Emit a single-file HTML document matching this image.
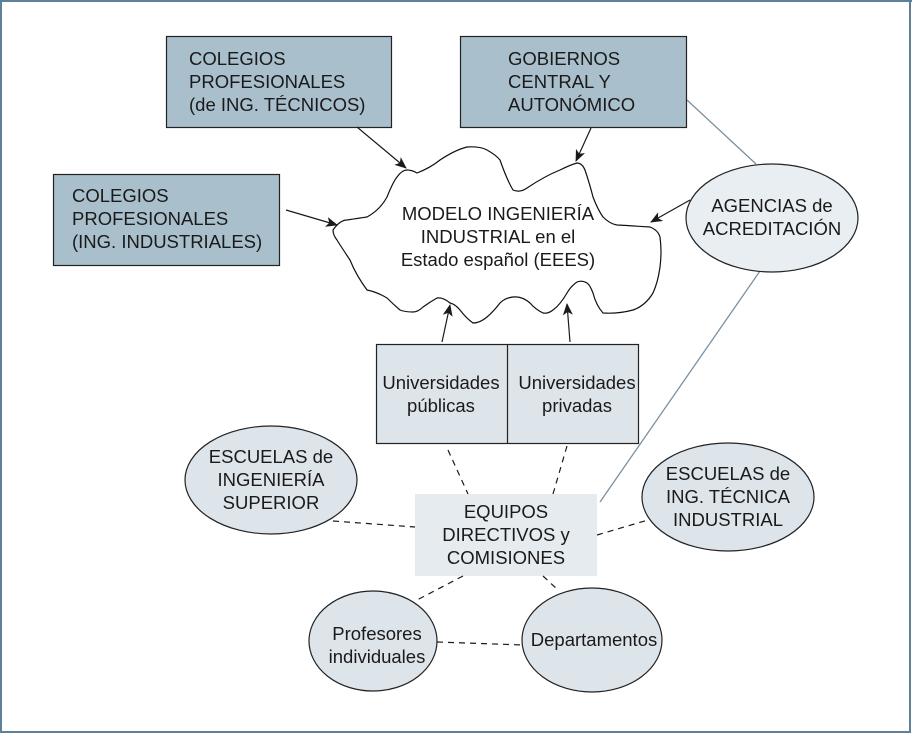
<!DOCTYPE html>
<html><head><meta charset="utf-8"><style>
body{margin:0;background:#fff}
svg{display:block}
text{font-family:"Liberation Sans",Arial,sans-serif;font-size:18.5px;fill:#1a1a1a}
</style></head><body>
<svg width="912" height="734" viewBox="0 0 912 734" xmlns="http://www.w3.org/2000/svg">
<defs><marker id="a" markerWidth="12" markerHeight="10" refX="11" refY="5" orient="auto" markerUnits="userSpaceOnUse"><path d="M0,0 L12,5 L0,10 L3,5 Z" fill="#1a1a1a"/></marker></defs>
<rect x="1" y="1" width="909" height="731" fill="#fff" stroke="#5f8197" stroke-width="2"/>
<rect x="0" y="0" width="912" height="2" fill="#5f8197"/>
<g stroke="#7a90a0" stroke-width="1.3" fill="none">
<line x1="687" y1="100" x2="756" y2="164"/>
<line x1="760" y1="271" x2="600" y2="502"/>
</g>
<g stroke="#222" stroke-width="1.2">
<rect x="166.5" y="36.5" width="225" height="91" fill="#a9bfcc"/>
<rect x="460.5" y="36.5" width="226" height="91" fill="#a9bfcc"/>
<rect x="53.5" y="174.5" width="226" height="91" fill="#a9bfcc"/>
<rect x="376.5" y="344.5" width="262" height="99" fill="#dde4ea"/>
<line x1="507.5" y1="344" x2="507.5" y2="443"/>
<ellipse cx="772" cy="218" rx="86" ry="54" fill="#e9eef2"/>
<ellipse cx="271" cy="480" rx="86" ry="54" fill="#dde4ea"/>
<ellipse cx="728" cy="497" rx="86" ry="54" fill="#dde4ea"/>
<ellipse cx="373" cy="641" rx="64" ry="50" fill="#dde4ea"/>
<ellipse cx="592" cy="640" rx="70" ry="52" fill="#dde4ea"/>
</g>
<rect x="415" y="494" width="182" height="82" fill="#e6ebef"/>
<path d="M333,230 Q340,220 347,220 Q360,218 367,217 Q380,210 387,197 Q393,182 397,177 Q402,170 407,170 Q412,170 417,173 Q430,168 440,160 Q455,150 467,147 Q480,146 487,150 Q496,155 500,160 Q507,180 513,190 Q520,193 527,188 Q545,176 560,170 Q570,165 577,163 Q582,163 585,170 Q590,185 593,197 Q598,210 603,217 Q610,224 617,225 Q635,226 650,227 Q658,230 660,237 Q662,252 660,267 Q658,282 653,293 Q645,306 633,310 Q618,314 603,313 Q596,305 593,293 Q590,285 587,283 Q582,280 577,282 Q571,286 567,293 Q560,305 553,310 Q548,314 543,313 Q535,309 530,303 Q522,296 513,297 Q505,298 500,303 Q493,312 487,317 Q480,323 473,323 Q466,318 460,310 Q455,304 450,303 Q443,297 437,298 Q430,302 423,307 Q418,312 413,312 Q405,312 400,310 Q393,304 387,298 Q377,292 367,290 Q356,275 350,260 Q340,245 337,240 Q333,235 333,230 Z" fill="#fff" stroke="#111" stroke-width="1.2"/>
<g stroke="#1a1a1a" stroke-width="1.2" marker-end="url(#a)">
<line x1="357" y1="127" x2="406" y2="168"/>
<line x1="591" y1="128" x2="576" y2="161"/>
<line x1="286" y1="210" x2="337" y2="225"/>
<line x1="690" y1="200" x2="651" y2="222"/>
<line x1="442" y1="342" x2="450" y2="305"/>
<line x1="570" y1="342" x2="567" y2="304"/>
</g>
<g stroke="#1a1a1a" stroke-width="1.2" stroke-dasharray="6,5" fill="none">
<line x1="448" y1="450" x2="468" y2="494"/>
<line x1="567" y1="446" x2="553" y2="494"/>
<line x1="333" y1="521" x2="415" y2="527"/>
<line x1="597" y1="535" x2="648" y2="520"/>
<line x1="463" y1="576" x2="417" y2="600"/>
<line x1="543" y1="576" x2="558" y2="590"/>
<line x1="437" y1="642" x2="523" y2="645"/>
</g>
<text x="189" y="65">COLEGIOS</text>
<text x="189" y="88">PROFESIONALES</text>
<text x="189" y="111">(de ING. TÉCNICOS)</text>
<text x="508" y="65">GOBIERNOS</text>
<text x="508" y="88">CENTRAL Y</text>
<text x="508" y="111">AUTONÓMICO</text>
<text x="72" y="202">COLEGIOS</text>
<text x="72" y="225">PROFESIONALES</text>
<text x="72" y="248">(ING. INDUSTRIALES)</text>
<g text-anchor="middle">
<text x="498" y="220">MODELO INGENIERÍA</text>
<text x="498" y="243">INDUSTRIAL en el</text>
<text x="498" y="266">Estado español (EEES)</text>
<text x="772" y="212">AGENCIAS de</text>
<text x="772" y="235">ACREDITACIÓN</text>
<text x="441" y="389">Universidades</text>
<text x="441" y="412">públicas</text>
<text x="577" y="389">Universidades</text>
<text x="577" y="412">privadas</text>
<text x="271" y="463">ESCUELAS de</text>
<text x="271" y="486">INGENIERÍA</text>
<text x="271" y="509">SUPERIOR</text>
<text x="728" y="480">ESCUELAS de</text>
<text x="728" y="503">ING. TÉCNICA</text>
<text x="728" y="526">INDUSTRIAL</text>
<text x="506" y="518">EQUIPOS</text>
<text x="506" y="541">DIRECTIVOS y</text>
<text x="506" y="564">COMISIONES</text>
<text x="377" y="640">Profesores</text>
<text x="377" y="663">individuales</text>
<text x="594" y="646">Departamentos</text>
</g>
</svg>
</body></html>
